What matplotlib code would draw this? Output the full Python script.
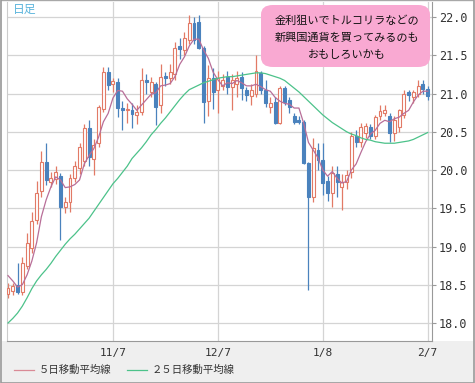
import matplotlib
matplotlib.use("Agg")
import matplotlib.pyplot as plt
from matplotlib.patches import FancyBboxPatch, Rectangle
from matplotlib.lines import Line2D

# ---------------- data ----------------
opens = [18.38, 18.42, 18.50, 18.41, 18.75, 18.98, 19.35, 19.72, 20.10, 19.84,
         19.88, 19.92, 19.52, 19.58, 19.90, 20.02, 20.12, 20.55, 20.15, 20.35,
         20.80, 21.28, 21.12, 21.15, 20.81, 20.79, 20.79, 20.72, 20.76, 21.18,
         21.02, 21.12, 20.85, 21.23, 21.20, 21.25, 21.62, 21.57, 21.70, 21.92,
         21.93, 21.60, 20.90, 21.20, 21.05, 21.10, 21.22, 21.08, 21.12, 21.22,
         21.05, 20.97, 21.00, 21.27, 21.05, 20.83, 20.89, 20.62, 21.07, 20.92,
         20.70, 20.65, 20.63, 20.09, 19.65, 20.26, 20.13, 19.85, 19.70, 19.95,
         19.78, 19.84, 19.97, 20.45, 20.36, 20.48, 20.56, 20.44, 20.70, 20.75,
         20.70, 20.48, 20.56, 20.72, 21.02, 20.95, 21.00, 21.12, 21.06]
highs = [18.52, 18.52, 18.78, 18.86, 19.18, 19.45, 19.85, 20.25, 20.35, 19.98,
         20.05, 19.96, 19.65, 19.95, 20.12, 20.35, 20.60, 20.65, 20.40, 20.85,
         21.35, 21.35, 21.20, 21.20, 20.90, 20.88, 20.88, 20.85, 21.33, 21.25,
         21.22, 21.15, 21.38, 21.28, 21.38, 21.67, 21.72, 21.80, 22.02, 22.00,
         22.02, 21.62, 21.37, 21.33, 21.30, 21.25, 21.30, 21.25, 21.30, 21.28,
         21.08, 21.12, 21.50, 21.30, 21.18, 20.95, 20.95, 21.10, 21.10, 20.95,
         20.75, 20.70, 20.66, 20.10, 20.42, 20.35, 20.35, 19.92, 20.05, 20.05,
         19.95, 20.00, 20.50, 20.52, 20.62, 20.62, 20.60, 20.72, 20.85, 20.85,
         20.75, 20.70, 20.80, 21.05, 21.05, 21.05, 21.18, 21.18, 21.10]
lows = [18.33, 18.36, 18.38, 18.36, 18.70, 18.92, 19.30, 19.65, 19.80, 19.78,
        19.82, 19.08, 19.44, 19.45, 19.84, 19.95, 20.05, 20.05, 19.93, 20.30,
        20.76, 21.05, 21.02, 20.69, 20.52, 20.62, 20.55, 20.60, 20.72, 21.00,
        20.95, 20.59, 20.74, 21.10, 21.12, 21.18, 21.45, 21.50, 21.65, 21.65,
        21.58, 20.62, 20.70, 20.80, 20.75, 21.05, 21.00, 20.78, 20.95, 20.92,
        20.90, 20.85, 20.95, 21.00, 20.83, 20.75, 20.60, 20.60, 20.85, 20.75,
        20.60, 20.60, 20.08, 18.43, 19.58, 20.00, 19.67, 19.60, 19.52, 19.65,
        19.48, 19.75, 19.90, 20.30, 20.30, 20.42, 20.40, 20.40, 20.65, 20.70,
        20.37, 20.38, 20.50, 20.68, 20.90, 20.88, 20.95, 21.00, 20.92]
closes = [18.46, 18.48, 18.41, 18.78, 19.05, 19.33, 19.70, 20.10, 19.87, 19.90,
          19.98, 19.52, 19.58, 19.90, 20.05, 20.30, 20.55, 20.17, 20.33, 20.82,
          21.28, 21.11, 21.16, 20.81, 20.79, 20.80, 20.73, 20.76, 21.18, 21.15,
          21.15, 20.82, 21.22, 21.20, 21.28, 21.60, 21.58, 21.73, 21.92, 21.70,
          21.60, 20.89, 21.20, 21.02, 21.20, 21.18, 21.08, 21.18, 21.20, 21.07,
          20.98, 21.05, 21.30, 21.05, 20.88, 20.88, 20.62, 21.07, 20.89, 20.82,
          20.63, 20.63, 20.09, 19.65, 20.29, 20.13, 19.83, 19.70, 19.96, 19.84,
          19.84, 19.93, 20.44, 20.36, 20.56, 20.57, 20.44, 20.69, 20.77, 20.78,
          20.48, 20.65, 20.78, 21.00, 20.98, 21.02, 21.10, 21.06, 20.97]
ma5 = [18.62, 18.55, 18.47, 18.50, 18.63, 18.81, 19.05, 19.39, 19.61, 19.78,
       19.91, 19.87, 19.77, 19.78, 19.81, 19.87, 20.08, 20.19, 20.28, 20.43,
       20.63, 20.74, 20.94, 21.04, 21.03, 20.93, 20.86, 20.78, 20.85, 20.92,
       20.99, 21.01, 21.10, 21.11, 21.13, 21.22, 21.38, 21.48, 21.62, 21.71,
       21.71, 21.57, 21.46, 21.28, 21.18, 21.10, 21.14, 21.13, 21.17, 21.14,
       21.10, 21.10, 21.12, 21.09, 21.05, 21.03, 20.95, 20.90, 20.87, 20.86,
       20.81, 20.81, 20.61, 20.36, 20.26, 20.16, 20.00, 19.92, 19.98, 19.89,
       19.83, 19.85, 20.00, 20.08, 20.23, 20.37, 20.47, 20.52, 20.61, 20.65,
       20.63, 20.67, 20.69, 20.74, 20.78, 20.89, 20.98, 21.03, 21.03]
ma25 = [18.00, 18.06, 18.13, 18.22, 18.33, 18.45, 18.55, 18.63, 18.70, 18.78,
        18.87, 18.95, 19.03, 19.10, 19.16, 19.23, 19.30, 19.37, 19.46, 19.55,
        19.64, 19.73, 19.82, 19.89, 19.97, 20.05, 20.15, 20.22, 20.29, 20.37,
        20.46, 20.53, 20.61, 20.68, 20.76, 20.84, 20.92, 20.99, 21.05, 21.08,
        21.11, 21.14, 21.16, 21.18, 21.20, 21.21, 21.22, 21.22, 21.23, 21.24,
        21.25, 21.26, 21.27, 21.27, 21.26, 21.24, 21.22, 21.20, 21.17, 21.12,
        21.07, 21.02, 20.96, 20.90, 20.84, 20.78, 20.72, 20.67, 20.62, 20.58,
        20.54, 20.50, 20.47, 20.45, 20.42, 20.40, 20.39, 20.37, 20.36, 20.35,
        20.35, 20.35, 20.36, 20.37, 20.38, 20.40, 20.43, 20.46, 20.49]
date_ticks = [22, 44, 66, 88]
date_labels = ["11/7", "12/7", "1/8", "2/7"]
price_ticks = [18.0, 18.5, 19.0, 19.5, 20.0, 20.5, 21.0, 21.5, 22.0]
legend_labels = ["５日移動平均線", "２５日移動平均線"]
note_lines = ["金利狙いでトルコリラなどの", "新興国通貨を買ってみるのも", "おもしろいかも"]

# ---------------- styles ----------------
UP = "#e27a66"
DOWN = "#4a82bd"
MA5C = "#b86e98"
MA25C = "#4cc28a"
CJK = ["Noto Sans CJK JP", "DejaVu Sans"]

W, H = 475, 383
fig = plt.figure(figsize=(W / 100, H / 100), dpi=100)
fig.patch.set_facecolor("#efefef")

def fx(px):
    return px / W

def fy(py):
    return 1 - py / H

# white panel behind plot + right labels
fig.patches.append(Rectangle((fx(2), fy(341)), fx(473) - fx(2), fy(2) - fy(341),
                             transform=fig.transFigure, facecolor="white",
                             edgecolor="none", zorder=-10))

ax = fig.add_axes([fx(7), fy(341), fx(432) - fx(7), fy(2) - fy(341)])
ax.set_zorder(1)
ax.set_facecolor("white")
ax.set_xlim(-0.21, 88.9)
ax.set_ylim(17.765, 22.196)

ax.spines["top"].set_visible(False)
ax.spines["right"].set_color("#999999")
ax.spines["bottom"].set_color("#999999")
ax.spines["left"].set_color("#cccccc")

ax.yaxis.tick_right()
ax.set_yticks(price_ticks)
ax.set_yticklabels([f"{v:.1f}" for v in price_ticks], family="DejaVu Sans Mono",
                   fontsize=8.5, color="#333333")
ax.tick_params(axis="y", length=3, color="#999999", pad=2)
ax.set_xticks(date_ticks)
ax.set_xticklabels(date_labels, family="DejaVu Sans Mono", fontsize=8, color="#333333")
ax.tick_params(axis="x", length=0, pad=5)
ax.grid(True, color="#d4d4d4", linewidth=0.9, zorder=0)
ax.set_axisbelow(True)

n = len(closes)
xs = list(range(n))
bw = 0.62
for i in xs:
    o, h, l, c = opens[i], highs[i], lows[i], closes[i]
    up = c >= o
    col = UP if up else DOWN
    ax.vlines(i, l, h, color=col, linewidth=0.9, zorder=2)
    lo, hi = min(o, c), max(o, c)
    if hi - lo < 0.012:
        hi = lo + 0.012
    if up:
        ax.bar(i, hi - lo, bottom=lo, width=bw, facecolor="white",
               edgecolor=col, linewidth=0.8, zorder=3)
    else:
        ax.bar(i, hi - lo, bottom=lo, width=bw, facecolor=col,
               edgecolor=col, linewidth=0.8, zorder=3)

ax.plot(xs, ma5, color=MA5C, linewidth=0.9, zorder=4)
ax.plot(xs, ma25, color=MA25C, linewidth=0.9, zorder=4)

# top-left label
fig.text(fx(13), fy(9.5), "日足", family=CJK, fontsize=8.5, color="#5ab4dc",
         va="center", ha="left", zorder=12)

# pink note box
box = FancyBboxPatch((fx(261), fy(67)), fx(430) - fx(261), fy(5) - fy(67),
                     boxstyle="round,pad=0,rounding_size=0.025",
                     transform=fig.transFigure, facecolor="#f9a9d2",
                     edgecolor="none", zorder=10)
fig.patches.append(box)
for k, line in enumerate(note_lines):
    fig.text(fx(347), fy(21 + 17 * k), line, family=CJK, fontsize=8,
             ha="center", va="center", color="#111111", zorder=11)

# legend at bottom
fig.add_artist(Line2D([fx(14), fx(34)], [fy(370), fy(370)], color="#d98a96",
                      linewidth=0.9, transform=fig.transFigure))
fig.text(fx(39), fy(370), legend_labels[0], family=CJK, fontsize=7.5,
         color="#333333", va="center", ha="left")
fig.add_artist(Line2D([fx(127), fx(147)], [fy(370), fy(370)], color=MA25C,
                      linewidth=0.9, transform=fig.transFigure))
fig.text(fx(152), fy(370), legend_labels[1], family=CJK, fontsize=7.5,
         color="#333333", va="center", ha="left")

# outer border
fig.patches.append(Rectangle((fx(0.5), fy(382.5)), fx(474) - fx(0.5), fy(0.5) - fy(382.5),
                             transform=fig.transFigure, facecolor="none",
                             edgecolor="#9a9a9a", linewidth=1.2, zorder=20))

fig.savefig("out.png", dpi=100, facecolor=fig.get_facecolor())
